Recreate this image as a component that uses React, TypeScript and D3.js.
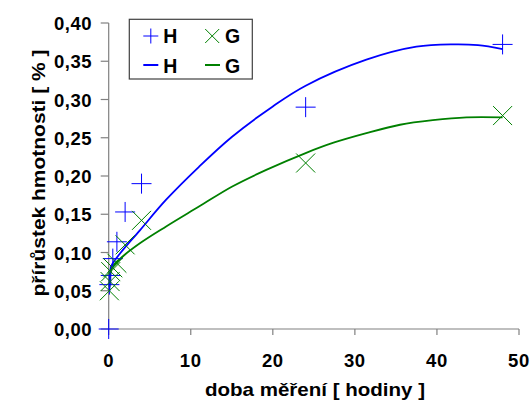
import React from "react";
import * as d3 from "d3";

const hTimes = [0, 0.083, 0.25, 0.5, 1, 2, 4, 24, 48];
const hValues = [0, 0.058, 0.07, 0.092, 0.114, 0.153, 0.19, 0.29, 0.372];
const gTimes = [0.083, 0.17, 0.25, 0.5, 1, 2, 4, 24, 48];
const gValues = [0.05, 0.062, 0.075, 0.08, 0.086, 0.11, 0.142, 0.217, 0.279];

const hFitTimes = [0.1, 0.2, 0.4, 1.4, 3.8, 7, 11, 15, 20, 24, 31.4, 37.5, 42, 45, 48];
const hFitValues = [0.05, 0.077, 0.084, 0.099, 0.129, 0.169, 0.212, 0.251, 0.291, 0.318, 0.352, 0.369, 0.372, 0.371, 0.366];
const gFitTimes = [0.1, 0.4, 1.4, 3.8, 7, 11, 15, 19.2, 24, 27.4, 31.4, 35.5, 39.5, 43.6, 48];
const gFitValues = [0.055, 0.08, 0.092, 0.112, 0.134, 0.16, 0.186, 0.208, 0.23, 0.2435, 0.256, 0.267, 0.273, 0.2767, 0.2767];

const xTicks = [0, 10, 20, 30, 40, 50];
const yTicks = [0, 0.05, 0.1, 0.15, 0.2, 0.25, 0.3, 0.35, 0.4];
const xTitle = "doba měření [ hodiny ]";
const yTitle = "přírůstek hmotnosti [ % ]";
const legendLabels = ["H", "G", "H", "G"];

const BLUE = "#0000ff";
const GREEN = "#008000";
const FONT = "'Liberation Sans', Arial, sans-serif";

export default function App() {
  const x = d3.scaleLinear().domain([0, 50]).range([108.7, 519]);
  const y = d3.scaleLinear().domain([0, 0.4]).range([329, 23]);
  const line = d3
    .line<[number, number]>()
    .x((d) => x(d[0]))
    .y((d) => y(d[1]))
    .curve(d3.curveCatmullRom.alpha(0.5));
  const hFit = hFitTimes.map((t, i) => [t, hFitValues[i]] as [number, number]);
  const gFit = gFitTimes.map((t, i) => [t, gFitValues[i]] as [number, number]);
  const fmt = (v: number) => v.toFixed(2).replace(".", ",");

  const plus = (cx: number, cy: number, r: number, key: string) => (
    <path key={key} d={`M${cx - r},${cy}H${cx + r}M${cx},${cy - r}V${cy + r}`} stroke={BLUE} strokeWidth={1} fill="none" />
  );
  const cross = (cx: number, cy: number, r: number, key: string) => (
    <path key={key} d={`M${cx - r},${cy - r}L${cx + r},${cy + r}M${cx - r},${cy + r}L${cx + r},${cy - r}`} stroke={GREEN} strokeWidth={1} fill="none" />
  );

  return (
    <svg width={531} height={408} style={{ position: "absolute", left: 0, top: 0, background: "#fff" }} fontFamily={FONT}>
      {/* axes */}
      <line x1={x(0)} x2={x(50)} y1={y(0)} y2={y(0)} stroke="#808080" strokeWidth={1.2} />
      <line x1={x(0)} x2={x(0)} y1={y(0)} y2={y(0.4)} stroke="#808080" strokeWidth={1.2} />
      {xTicks.map((t) => (
        <g key={"xt" + t}>
          <line x1={x(t)} x2={x(t)} y1={y(0)} y2={y(0) + 6} stroke="#808080" strokeWidth={1.2} />
          <text x={x(t)} y={366.5} textAnchor="middle" fontSize={18.5} fontWeight="bold" letterSpacing={0.6}>
            {t}
          </text>
        </g>
      ))}
      {yTicks.map((t) => (
        <g key={"yt" + t}>
          <line x1={x(0) - 8} x2={x(0)} y1={y(t)} y2={y(t)} stroke="#808080" strokeWidth={1.2} />
          <text x={92} y={y(t) + 7} textAnchor="end" fontSize={18.5} fontWeight="bold" letterSpacing={0.5}>
            {fmt(t)}
          </text>
        </g>
      ))}
      <text x={315} y={396} textAnchor="middle" fontSize={18.5} fontWeight="bold" textLength={220} lengthAdjust="spacingAndGlyphs">
        {xTitle}
      </text>
      <text transform={`translate(44.5,173) rotate(-90)`} textAnchor="middle" fontSize={18.5} fontWeight="bold" textLength={247} lengthAdjust="spacingAndGlyphs">
        {yTitle}
      </text>

      {/* fit curves */}
      <path d={line(hFit) || ""} stroke={BLUE} strokeWidth={1.8} fill="none" />
      <path d={line(gFit) || ""} stroke={GREEN} strokeWidth={1.8} fill="none" />

      {/* markers */}
      {hTimes.map((t, i) => plus(x(t), y(hValues[i]), 10, "h" + i))}
      {gTimes.map((t, i) => cross(x(t), y(gValues[i]), 9.5, "g" + i))}

      {/* legend */}
      <rect x={129.3} y={19.3} width={123} height={59.7} fill="#fff" stroke="#404040" strokeWidth={1.2} />
      {plus(150.8, 36, 7.5, "lp")}
      {cross(212.2, 36, 7, "lx")}
      <line x1={143.3} x2={158.3} y1={65} y2={65} stroke={BLUE} strokeWidth={2} />
      <line x1={205} x2={220} y1={65} y2={65} stroke={GREEN} strokeWidth={2} />
      <text x={163.3} y={43.3} fontSize={19.5} fontWeight="bold">{legendLabels[0]}</text>
      <text x={225} y={43.3} fontSize={19.5} fontWeight="bold">{legendLabels[1]}</text>
      <text x={163.3} y={72.7} fontSize={19.5} fontWeight="bold">{legendLabels[2]}</text>
      <text x={225} y={72.7} fontSize={19.5} fontWeight="bold">{legendLabels[3]}</text>
    </svg>
  );
}
